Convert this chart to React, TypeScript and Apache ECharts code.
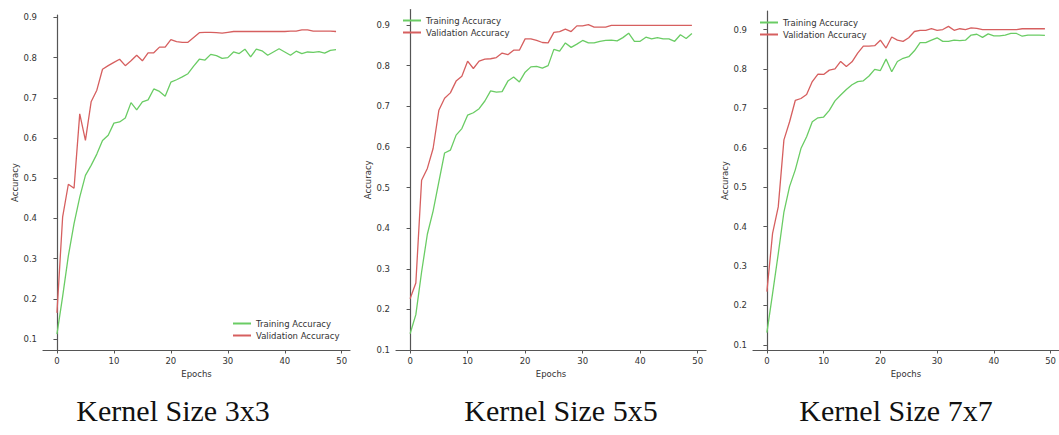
import React, { useEffect, useRef } from "react";
import * as echarts from "echarts";

const xTicks = [0, 10, 20, 30, 40, 50];
const yTicks = [0.1, 0.2, 0.3, 0.4, 0.5, 0.6, 0.7, 0.8, 0.9];
const seriesNames = ["Training Accuracy", "Validation Accuracy"];
const panelTitles = ["Kernel Size 3x3", "Kernel Size 5x5", "Kernel Size 7x7"];

const k3Train = [0.112, 0.206, 0.307, 0.387, 0.453, 0.507, 0.532, 0.56, 0.594, 0.607, 0.637, 0.64, 0.65, 0.688, 0.67, 0.69, 0.695, 0.722, 0.716, 0.704, 0.739, 0.745, 0.752, 0.76, 0.779, 0.796, 0.794, 0.808, 0.805, 0.798, 0.8, 0.814, 0.81, 0.821, 0.802, 0.821, 0.817, 0.806, 0.814, 0.822, 0.814, 0.806, 0.816, 0.81, 0.814, 0.813, 0.815, 0.811, 0.818, 0.82];
const k3Val = [0.165, 0.404, 0.485, 0.475, 0.66, 0.594, 0.69, 0.719, 0.771, 0.78, 0.788, 0.796, 0.78, 0.792, 0.806, 0.792, 0.812, 0.812, 0.826, 0.826, 0.845, 0.84, 0.838, 0.838, 0.85, 0.862, 0.863, 0.863, 0.862, 0.861, 0.863, 0.865, 0.865, 0.865, 0.865, 0.865, 0.865, 0.865, 0.865, 0.865, 0.865, 0.866, 0.866, 0.869, 0.869, 0.866, 0.866, 0.866, 0.866, 0.865];
const k5Train = [0.14, 0.187, 0.292, 0.385, 0.442, 0.514, 0.585, 0.592, 0.629, 0.645, 0.678, 0.684, 0.694, 0.713, 0.738, 0.735, 0.736, 0.762, 0.772, 0.76, 0.784, 0.797, 0.798, 0.794, 0.8, 0.84, 0.836, 0.856, 0.845, 0.853, 0.862, 0.856, 0.856, 0.86, 0.862, 0.863, 0.861, 0.869, 0.88, 0.86, 0.86, 0.87, 0.866, 0.869, 0.866, 0.866, 0.86, 0.876, 0.867, 0.879];
const k5Val = [0.226, 0.265, 0.518, 0.547, 0.596, 0.69, 0.72, 0.733, 0.762, 0.774, 0.811, 0.793, 0.811, 0.816, 0.817, 0.82, 0.831, 0.827, 0.838, 0.838, 0.866, 0.866, 0.862, 0.857, 0.856, 0.882, 0.884, 0.89, 0.884, 0.898, 0.898, 0.901, 0.895, 0.895, 0.895, 0.899, 0.899, 0.899, 0.899, 0.899, 0.899, 0.899, 0.899, 0.899, 0.899, 0.899, 0.899, 0.899, 0.899, 0.899];
const k7Train = [0.131, 0.23, 0.331, 0.437, 0.502, 0.544, 0.598, 0.628, 0.666, 0.676, 0.678, 0.695, 0.719, 0.734, 0.748, 0.76, 0.768, 0.77, 0.782, 0.799, 0.796, 0.825, 0.793, 0.819, 0.827, 0.831, 0.846, 0.867, 0.867, 0.873, 0.879, 0.87, 0.87, 0.873, 0.872, 0.873, 0.886, 0.888, 0.88, 0.889, 0.884, 0.884, 0.886, 0.89, 0.89, 0.883, 0.886, 0.886, 0.886, 0.885];
const k7Val = [0.235, 0.383, 0.45, 0.62, 0.666, 0.72, 0.725, 0.735, 0.768, 0.787, 0.786, 0.797, 0.8, 0.819, 0.806, 0.818, 0.84, 0.858, 0.858, 0.859, 0.873, 0.853, 0.881, 0.873, 0.87, 0.879, 0.895, 0.898, 0.898, 0.902, 0.898, 0.9, 0.908, 0.898, 0.902, 0.9, 0.904, 0.903, 0.9, 0.9, 0.9, 0.9, 0.9, 0.9, 0.9, 0.902, 0.902, 0.902, 0.902, 0.902];

const trainSets = [k3Train, k5Train, k7Train];
const valSets = [k3Val, k5Val, k7Val];

const GREEN = "#6acc64";
const RED = "#d65f5f";
const AXIS = "#555555";
const TXT = "#333333";
const SANS = "DejaVu Sans";

const grids = [
  { left: 43, top: 15, width: 307, height: 335 },
  { left: 396, top: 9.6, width: 310, height: 340.4 },
  { left: 753, top: 11, width: 308, height: 339 },
];
const yRanges = [
  [0.0727, 0.906],
  [0.1, 0.938],
  [0.087, 0.947],
];
const legendPos = [
  { left: 233, top: 319 },
  { left: 403, top: 16 },
  { left: 760, top: 18 },
];
const titleX = [173, 561, 896];

export default function App() {
  const ref = useRef<HTMLDivElement>(null);
  useEffect(() => {
    if (!ref.current) return;
    const chart = echarts.init(ref.current, null, { renderer: "svg" });
    const axisLine = { show: true, lineStyle: { color: AXIS, width: 1.2 } };
    const axisTick = { show: true, inside: false, length: 3.5, lineStyle: { color: AXIS, width: 1 } };
    const labelStyle = { color: TXT, fontFamily: SANS, fontSize: 8.5 };
    const nameStyle = { color: TXT, fontFamily: SANS, fontSize: 8.5 };

    const xAxis = grids.map((_, i) => ({
      type: "value",
      gridIndex: i,
      min: -2.45,
      max: 51.45,
      name: "Epochs",
      nameLocation: "middle",
      nameGap: 17,
      nameTextStyle: nameStyle,
      axisLine,
      axisTick: { ...axisTick, customValues: xTicks },
      axisLabel: { ...labelStyle, margin: 6, customValues: xTicks },
      splitLine: { show: false },
    }));
    const yAxis = grids.map((_, i) => ({
      type: "value",
      gridIndex: i,
      min: yRanges[i][0],
      max: yRanges[i][1],
      name: "Accuracy",
      nameLocation: "middle",
      nameGap: 24,
      nameTextStyle: nameStyle,
      axisLine,
      axisTick: { ...axisTick, customValues: yTicks },
      axisLabel: { ...labelStyle, margin: 6, customValues: yTicks, formatter: (v: number) => v.toFixed(1) },
      splitLine: { show: false },
    }));
    const series: any[] = [];
    grids.forEach((_, i) => {
      series.push({
        type: "line",
        name: seriesNames[0],
        xAxisIndex: i,
        yAxisIndex: i,
        data: trainSets[i].map((v, e) => [e, v]),
        symbol: "none",
        lineStyle: { color: GREEN, width: 1.3 },
        itemStyle: { color: GREEN },
      });
      series.push({
        type: "line",
        name: seriesNames[1],
        xAxisIndex: i,
        yAxisIndex: i,
        data: valSets[i].map((v, e) => [e, v]),
        symbol: "none",
        lineStyle: { color: RED, width: 1.3 },
        itemStyle: { color: RED },
      });
    });
    const legend = legendPos.map((p) => ({
      ...p,
      orient: "vertical",
      padding: 0,
      itemGap: 3,
      itemWidth: 18,
      itemHeight: 2,
      icon: "rect",
      selectedMode: false,
      data: seriesNames,
      textStyle: { color: TXT, fontFamily: SANS, fontSize: 8.5 },
    }));
    const graphic = panelTitles.map((t, i) => ({
      type: "text",
      x: titleX[i],
      y: 410,
      style: {
        text: t,
        fill: "#111",
        font: "30px 'Liberation Serif'",
        textAlign: "center",
        textVerticalAlign: "middle",
      },
    }));
    chart.setOption({
      animation: false,
      backgroundColor: "#ffffff",
      grid: grids.map((g) => ({ ...g, containLabel: false })),
      xAxis,
      yAxis,
      legend,
      series,
      graphic,
    });
    return () => chart.dispose();
  }, []);
  return (
    <div
      ref={ref}
      style={{ position: "fixed", left: 0, top: 0, width: 1059, height: 435 }}
    />
  );
}
